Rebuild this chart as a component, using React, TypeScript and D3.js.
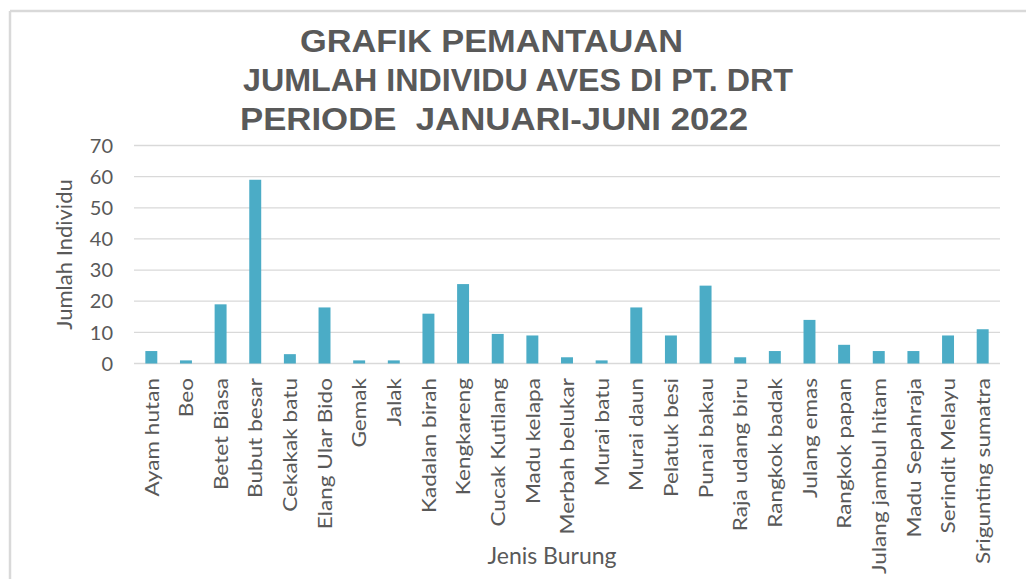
import React from "react";
import * as d3 from "d3";

const categories = [
  "Ayam hutan", "Beo", "Betet Biasa", "Bubut besar", "Cekakak batu", "Elang Ular Bido",
  "Gemak", "Jalak", "Kadalan birah", "Kengkareng", "Cucak Kutilang", "Madu kelapa",
  "Merbah belukar", "Murai batu", "Murai daun", "Pelatuk besi", "Punai bakau",
  "Raja udang biru", "Rangkok badak", "Julang emas", "Rangkok papan", "Julang jambul hitam",
  "Madu Sepahraja", "Serindit Melayu", "Srigunting sumatra",
];
const values = [4, 1, 19, 59, 3, 18, 1, 1, 16, 25.5, 9.5, 9, 2, 1, 18, 9, 25, 2, 4, 14, 6, 4, 4, 9, 11];
const yTicks = [0, 10, 20, 30, 40, 50, 60, 70];
const titleLines = ["GRAFIK PEMANTAUAN", "JUMLAH INDIVIDU AVES DI PT. DRT", "PERIODE  JANUARI-JUNI 2022"];
const xTitle = "Jenis Burung";
const yTitle = "Jumlah Individu";

const W = 1026, H = 579;
const left = 134, right = 1000, top = 145.5, bottom = 363.5;
const grey = "#595959";
const gridColor = "#d9d9d9";
const barColor = "#4bacc6";
const sans = "Lato, 'Open Sans', sans-serif";

const titleLayout = [
  { cx: 491.5, y: 52, len: 383 },
  { cx: 518, y: 91, len: 550 },
  { cx: 494, y: 130, len: 508 },
];

export default function App() {
  const x = d3.scaleBand<string>().domain(categories).range([left, right]).paddingInner(0.655).paddingOuter(0.3275);
  const y = d3.scaleLinear().domain([0, 70]).range([bottom, top]);
  return (
    <svg width={W} height={H} style={{ position: "absolute", left: 0, top: 0, background: "#fff" }}>
      <rect x={0} y={0} width={W} height={H} fill="#fff" />
      <line x1={10} x2={W} y1={11} y2={11} stroke={gridColor} strokeWidth={2.5} />
      <line x1={10} x2={10} y1={11} y2={H} stroke={gridColor} strokeWidth={2.5} />
      {titleLines.map((t, i) => (
        <text key={t} x={titleLayout[i].cx} y={titleLayout[i].y} textAnchor="middle"
          fontFamily="'Liberation Sans', Arial, sans-serif" fontWeight="bold" fontSize={31} fill={grey}
          textLength={titleLayout[i].len} lengthAdjust="spacingAndGlyphs" style={{ whiteSpace: "pre" }}>
          {t}
        </text>
      ))}
      {yTicks.map((v) => (
        <g key={v}>
          <line x1={left} x2={right} y1={y(v)} y2={y(v)} stroke={gridColor} strokeWidth={1.3} />
          <text x={113} y={y(v)} dy="0.36em" textAnchor="end" fontFamily={sans} fontSize={20} fill={grey}>{v}</text>
        </g>
      ))}
      {categories.map((c, i) => (
        <rect key={c} x={x(c)} y={y(values[i])} width={x.bandwidth()} height={y(0) - y(values[i])} fill={barColor} />
      ))}
      {categories.map((c) => {
        const cx = (x(c) as number) + x.bandwidth() / 2;
        return (
          <text key={c} transform={`translate(${cx},378) rotate(-90) scale(1.13,1)`} dy="0.36em" textAnchor="end"
            fontFamily={sans} fontSize={20} fill={grey}>{c}</text>
        );
      })}
      <text x={552} y={564} textAnchor="middle" fontFamily={sans} fontSize={23} fill={grey}>{xTitle}</text>
      <text transform={`translate(72,${(top + bottom) / 2}) rotate(-90)`} textAnchor="middle"
        fontFamily={sans} fontSize={22} fill={grey}>{yTitle}</text>
    </svg>
  );
}
